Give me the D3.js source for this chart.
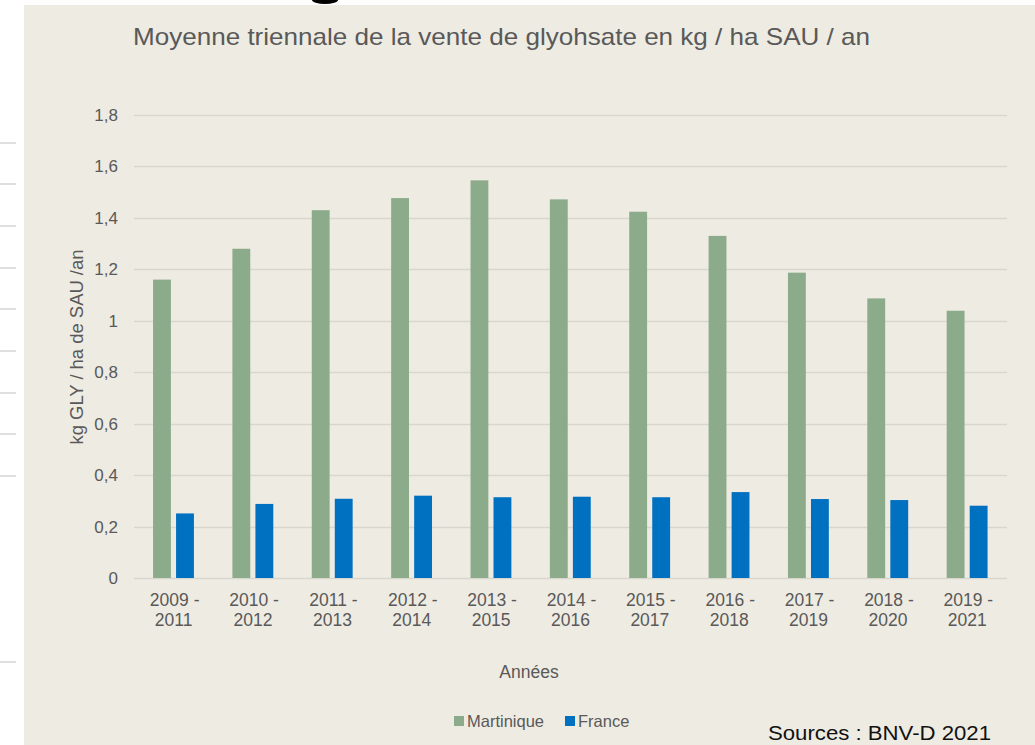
<!DOCTYPE html>
<html>
<head>
<meta charset="utf-8">
<script src="https://cdn.jsdelivr.net/npm/d3@7"></script>
<style>
  body { margin: 0; background: #fff; }
  svg { display: block; font-family: "Liberation Sans", Arial, sans-serif; }
</style>
</head>
<body>
<div id="chart"></div>
<script>
// data
var periods = ["2009 - 2011", "2010 - 2012", "2011 - 2013", "2012 - 2014", "2013 - 2015",
  "2014 - 2016", "2015 - 2017", "2016 - 2018", "2017 - 2019", "2018 - 2020", "2019 - 2021"];
var martinique = [1.16, 1.28, 1.43, 1.477, 1.546, 1.472, 1.424, 1.33, 1.187, 1.087, 1.039];
var france = [0.251, 0.288, 0.308, 0.32, 0.314, 0.316, 0.314, 0.334, 0.307, 0.303, 0.281];
var yTicks = [0, 0.2, 0.4, 0.6, 0.8, 1, 1.2, 1.4, 1.6, 1.8];
var seriesNames = ["Martinique", "France"];
var colors = ["#8cab8b", "#0070c0"];

var w = 1035, h = 745;
var margin = {left: 134, right: 28, top: 115, bottom: 167};

var svg = d3.select("#chart").append("svg")
  .attr("width", w)
  .attr("height", h);

// screenshot leftovers around the chart panel
svg.append("rect").attr("width", w).attr("height", h).attr("fill", "#ffffff");
svg.append("rect").attr("x", 24).attr("y", 5).attr("width", w - 24).attr("height", h - 5).attr("fill", "#eeebe2");
svg.append("ellipse").attr("cx", 325).attr("cy", 0).attr("rx", 13).attr("ry", 4).attr("fill", "#000");
[143, 184, 226, 268, 309, 351, 393, 434, 476, 662].forEach(function(y) {
  svg.append("line").attr("x1", 0).attr("x2", 16).attr("y1", y).attr("y2", y)
    .attr("stroke", "#d4d4d4").attr("stroke-width", 1.5);
});

var x = d3.scaleBand()
  .domain(periods)
  .range([margin.left, w - margin.right])
  .paddingInner(0).paddingOuter(0);

var y = d3.scaleLinear()
  .domain([0, 1.8])
  .range([h - margin.bottom, margin.top]);

// gridlines
svg.append("g")
  .selectAll("line")
  .data(yTicks)
  .enter()
  .append("line")
  .attr("x1", margin.left)
  .attr("x2", w - margin.right)
  .attr("y1", function(d) { return Math.round(y(d)) + 0.5; })
  .attr("y2", function(d) { return Math.round(y(d)) + 0.5; })
  .attr("stroke", "#d9d6d0")
  .attr("stroke-width", 1.3);

// y tick labels
svg.append("g")
  .selectAll("text")
  .data(yTicks)
  .enter()
  .append("text")
  .attr("x", 118)
  .attr("y", function(d) { return y(d) + 6; })
  .attr("text-anchor", "end")
  .attr("font-size", 17)
  .attr("fill", "#595959")
  .text(function(d) { return String(d).replace(".", ","); });

// bars
var barW = x.bandwidth() * 0.225;
var offsets = [x.bandwidth() * 0.24, x.bandwidth() * 0.53];
[martinique, france].forEach(function(vals, s) {
  svg.append("g")
    .selectAll("rect")
    .data(vals)
    .enter()
    .append("rect")
    .attr("x", function(d, i) { return x(periods[i]) + offsets[s]; })
    .attr("y", function(d) { return y(d); })
    .attr("width", barW)
    .attr("height", function(d) { return y(0) - y(d); })
    .attr("fill", colors[s]);
});

// x labels, two lines
var xl = svg.append("g")
  .selectAll("text")
  .data(periods)
  .enter()
  .append("text")
  .attr("text-anchor", "middle")
  .attr("font-size", 17.5)
  .attr("fill", "#595959");
xl.append("tspan")
  .attr("x", function(d) { return x(d) + x.bandwidth() / 2 + 1; })
  .attr("y", 606)
  .text(function(d) { return d.split(" - ")[0] + " -"; });
xl.append("tspan")
  .attr("x", function(d) { return x(d) + x.bandwidth() / 2; })
  .attr("y", 626)
  .text(function(d) { return d.split(" - ")[1]; });

// title
svg.append("text")
  .attr("x", 133)
  .attr("y", 45)
  .attr("font-size", 24)
  .attr("fill", "#595959")
  .attr("textLength", 737)
  .attr("lengthAdjust", "spacingAndGlyphs")
  .text("Moyenne triennale de la vente de glyohsate en kg / ha SAU / an");

// axis titles
svg.append("text")
  .attr("transform", "translate(83,347) rotate(-90)")
  .attr("text-anchor", "middle")
  .attr("font-size", 17.5)
  .attr("fill", "#595959")
  .attr("textLength", 195)
  .attr("lengthAdjust", "spacingAndGlyphs")
  .text("kg GLY / ha de SAU /an");

svg.append("text")
  .attr("x", 529)
  .attr("y", 678)
  .attr("text-anchor", "middle")
  .attr("font-size", 17.5)
  .attr("fill", "#595959")
  .text("Années");

// legend
var legX = [454, 565];
seriesNames.forEach(function(name, i) {
  svg.append("rect")
    .attr("x", legX[i]).attr("y", 716)
    .attr("width", 10).attr("height", 10)
    .attr("fill", colors[i]);
  svg.append("text")
    .attr("x", legX[i] + 13).attr("y", 727)
    .attr("font-size", 16.5)
    .attr("fill", "#595959")
    .text(name);
});

svg.append("text")
  .attr("x", 768)
  .attr("y", 740)
  .attr("font-size", 20)
  .attr("fill", "#111")
  .attr("textLength", 223)
  .attr("lengthAdjust", "spacingAndGlyphs")
  .text("Sources : BNV-D 2021");
</script>
</body>
</html>
